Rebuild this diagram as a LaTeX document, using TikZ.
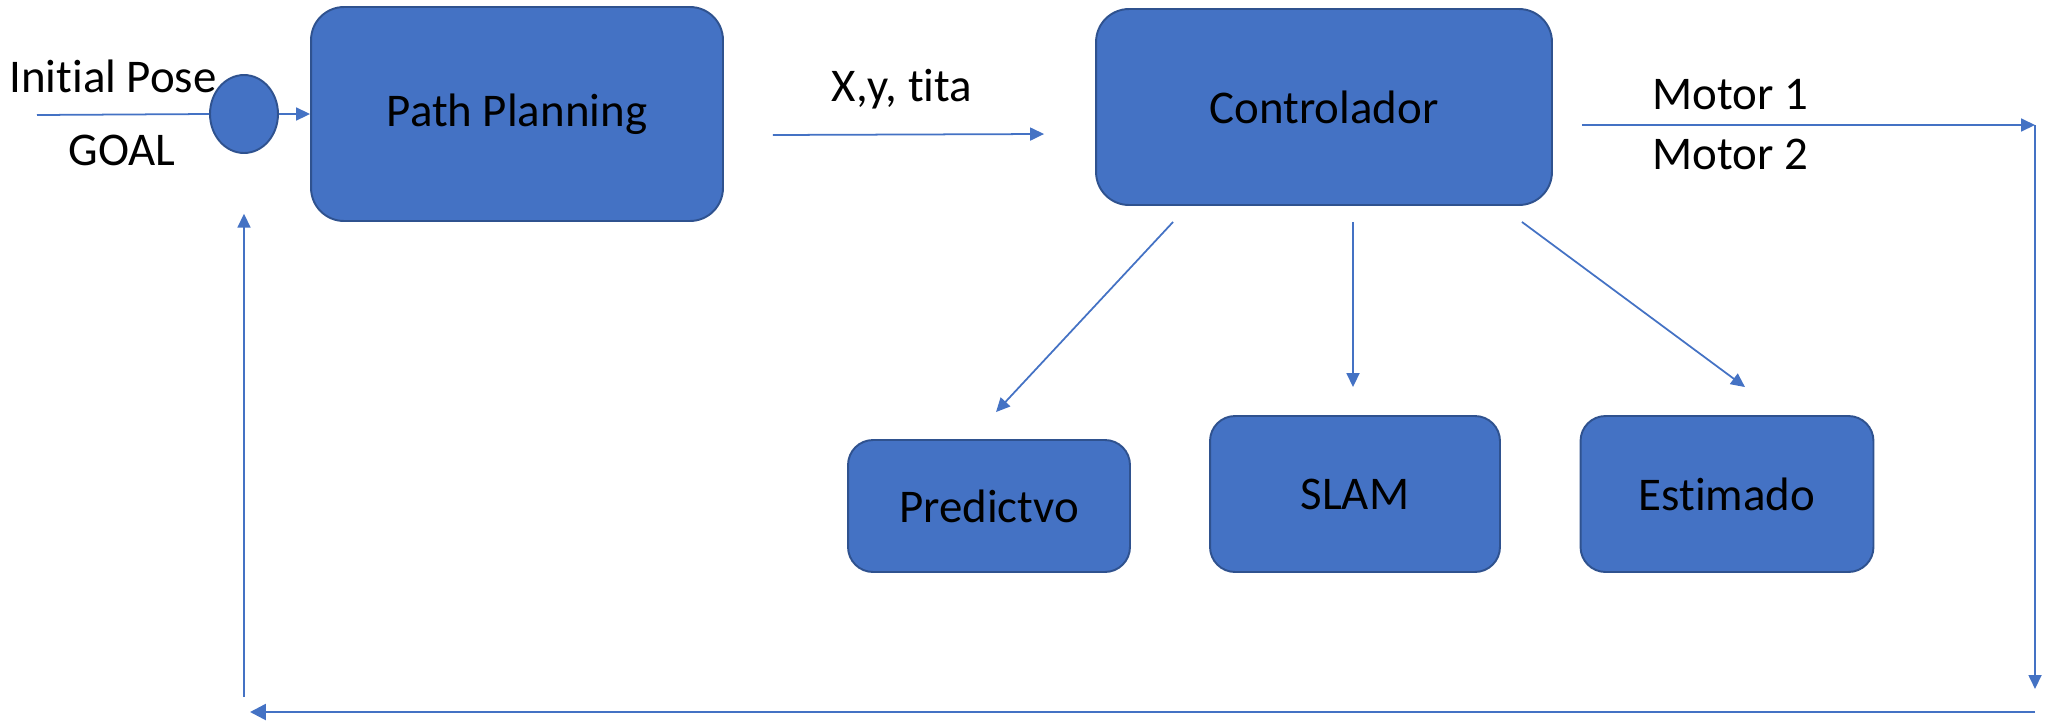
\documentclass[tikz,border=0pt]{standalone}
\usepackage{fontspec}
\setmainfont{Carlito}[Ligatures=NoCommon]
\usetikzlibrary{arrows.meta,shapes.geometric}
\definecolor{boxblue}{HTML}{4472C4}
\definecolor{boxedge}{HTML}{2F528F}
\tikzset{%
  >={Triangle[width=2.6mm,length=2.8mm]},
  % Specifications for style of nodes:
          block/.style = {rectangle, draw=boxedge, fill=boxblue,
                          line width=1.1pt, text centered,
                          font=\fontsize{26.7}{32}\selectfont},
       bigblock/.style = {block, rounded corners=6.6mm},
     smallblock/.style = {block, rounded corners=5mm},
    sumjunction/.style = {ellipse, draw=boxedge, fill=boxblue,
                          line width=1.1pt, inner sep=0pt,
                          minimum width=1.36cm, minimum height=1.56cm},
         signal/.style = {draw=boxblue, line width=1pt},
        sigtext/.style = {font=\fontsize{26.7}{32}\selectfont, inner sep=0pt},
}
\begin{document}
\begin{tikzpicture}[x=0.02cm, y=-0.02cm]
  \useasboundingbox (0,0) rectangle (2049,721);
  % Specification of nodes (position, etc.)
  \node (sum) [sumjunction] at (244,114) {};
  \node (pathPlan) [bigblock, minimum width=8.24cm, minimum height=4.28cm] at (517,114) {Path Planning};
  \node (ctrl) [bigblock, minimum width=9.12cm, minimum height=3.92cm] at (1324,107) {Controlador};
  \node (pred) [smallblock, minimum width=5.64cm, minimum height=2.64cm] at (989,506) {Predictvo};
  \node (slam) [smallblock, minimum width=5.8cm, minimum height=3.12cm] at (1355,494) {SLAM};
  \node (estim) [smallblock, minimum width=5.86cm, minimum height=3.12cm] at (1727,494) {Estimado};

  \node (initPose) [sigtext] at (113,76) {Initial Pose};
  \node (goal) [sigtext] at (122,150) {GOAL};
  \node (xyTita) [sigtext] at (902,89) {X,y, tita};
  \node (motor1) [sigtext] at (1730,95) {Motor 1};
  \node (motor2) [sigtext] at (1730,154) {Motor 2};

  % free ends of the loop
  \coordinate (inStart) at (37,115);
  \coordinate (motorEnd) at (2035,125);
  \coordinate (downEnd) at (2035,689);
  \coordinate (backStart) at (2035,712);
  \coordinate (backEnd) at (250,712);
  \coordinate (upStart) at (244,697);

  % Specification of lines between nodes specified above
  \draw[signal] (inStart) -- (sum.west);
  \draw[signal, ->] (sum.east) -- (pathPlan.west);
  \draw[signal, ->] ([shift={(49,21)}]pathPlan.east) -- ([shift={(-51,27)}]ctrl.west);
  \draw[signal, ->] ([shift={(29,18)}]ctrl.east) -- (motorEnd);
  \draw[signal, ->] (motorEnd) -- (downEnd);
  \draw[signal, line width=1.5pt, -{Triangle[width=3.2mm,length=3.2mm]}] (backStart) -- (backEnd);
  \draw[signal, ->] (upStart) -- ([yshift=-34]sum.south);

  \draw[signal, ->] ([shift={(78,16)}]ctrl.south west) -- ([shift={(7,-27)}]pred.north);
  \draw[signal, ->] ([shift={(29,16)}]ctrl.south) -- ([shift={(-2,-28)}]slam.north);
  \draw[signal, ->] ([shift={(-31,16)}]ctrl.south east) -- ([shift={(18,-28)}]estim.north);
\end{tikzpicture}
\end{document}
